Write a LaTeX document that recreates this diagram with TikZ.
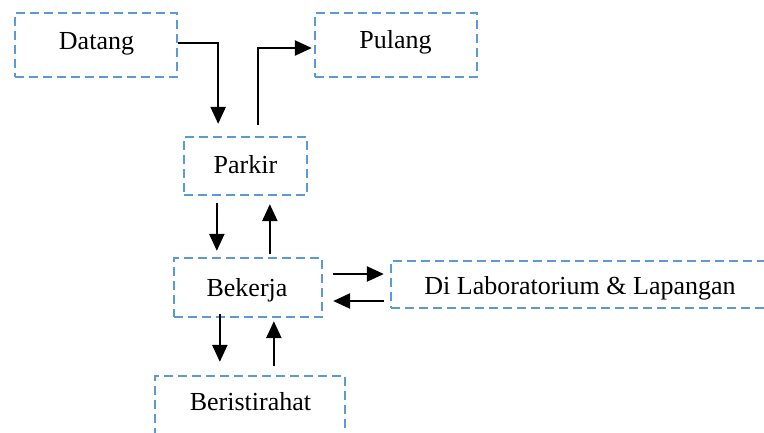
\documentclass[tikz,border=0pt]{standalone}
\usepackage{fontspec}
\setmainfont{Liberation Serif}
\usetikzlibrary{arrows.meta,calc}
\definecolor{boxblue}{HTML}{5B9BD5}
\begin{document}
\begin{tikzpicture}[x=1pt,y=-1pt,
  flowbox/.style={draw=boxblue, line width=2.3pt, dash pattern=on 9pt off 5pt,
    rectangle, inner sep=0pt},
  lbl/.style={anchor=base, inner sep=0pt, font=\fontsize{26}{30}\selectfont},
  thinline/.style={draw=black, line width=1.3pt},
  arr/.style={draw=black, line width=2.4pt, -{Triangle[length=17pt,width=15pt]}}]
\useasboundingbox (0,0) rectangle (764,432);
\clip (0,0) rectangle (764,432);

% boxes
\node[flowbox, minimum width=162pt, minimum height=64pt] (datang) at (96,45) {};
\node[flowbox, minimum width=162pt, minimum height=64pt] (pulang) at (396,45) {};
\node[flowbox, minimum width=123pt, minimum height=58pt] (parkir) at (245.5,166) {};
\node[flowbox, minimum width=148pt, minimum height=59pt] (bekerja) at (248,287.5) {};
\node[flowbox, minimum width=409pt, minimum height=47pt] (lab) at (595.5,284.5) {};
\node[flowbox, minimum width=190pt, minimum height=100pt] (istirahat) at (250,426) {};

% labels
\node[lbl] at (96.5,49) {Datang};
\node[lbl] at (395.5,48) {Pulang};
\node[lbl] at (245.5,173) {Parkir};
\node[lbl] at (247,296) {Bekerja};
\node[lbl] at (580,294) {Di Laboratorium \& Lapangan};
\node[lbl] at (250.5,410) {Beristirahat};

% Datang -> Parkir
\draw[thinline] ($(datang.east)+(0,-2)$) -- ++(40,0) coordinate (c1);
\draw[arr, shorten >=12pt] ($(c1)+(0,-0.6)$) -- (c1 |- parkir.north);

% Parkir -> Pulang
\coordinate (c2) at ($(parkir.north west)+(75,0)$);
\draw[thinline, shorten <=11pt] (c2) -- (c2 |- {$(pulang.west)+(0,3)$}) coordinate (c3);
\draw[arr, shorten >=2pt] ($(c3)+(-0.6,0)$) -- ($(pulang.west)+(0,3)$);

% Parkir <-> Bekerja
\draw[arr, shorten <=7pt, shorten >=6pt]
  ($(parkir.south west)+(34,0)$) -- ($(bekerja.north west)+(44,0)$);
\draw[arr, shorten <=3pt, shorten >=8pt]
  ($(bekerja.north west)+(97,0)$) -- ($(parkir.south west)+(87,0)$);

% Bekerja <-> Laboratorium
\draw[arr, shorten <=10pt, shorten >=6pt]
  ($(bekerja.east)+(0,-13.5)$) -- ($(lab.west)+(0,-10.5)$);
\draw[arr, shorten <=6pt, shorten >=10pt]
  ($(lab.west)+(0,16.5)$) -- ($(bekerja.east)+(0,13.5)$);

% Bekerja <-> Beristirahat
\draw[arr, shorten <=-4pt, shorten >=13pt]
  ($(bekerja.south west)+(47,0)$) -- ($(istirahat.north west)+(66,0)$);
\draw[arr, shorten <=9pt, shorten >=3pt]
  ($(istirahat.north west)+(120,0)$) -- ($(bekerja.south west)+(101,0)$);
\end{tikzpicture}
\end{document}
